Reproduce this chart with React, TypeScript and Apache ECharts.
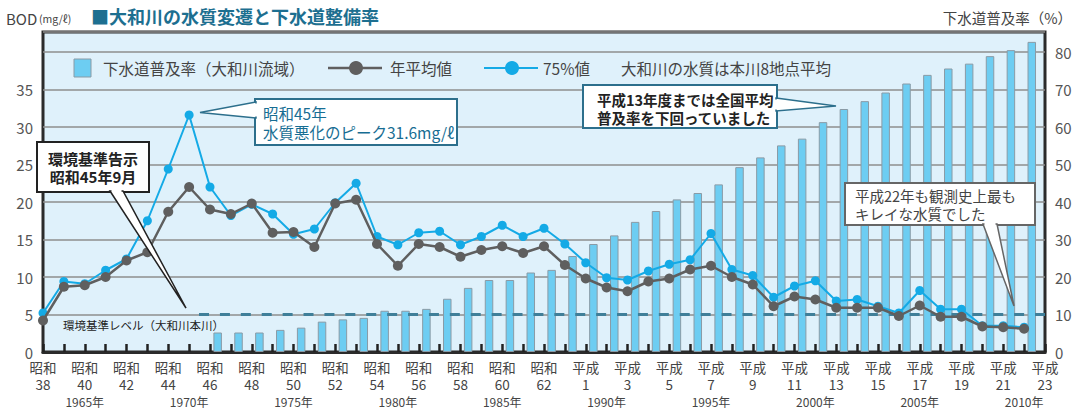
import React, { useEffect, useRef } from "react";
import * as echarts from "echarts";

const FONT = "'Noto Sans CJK JP', 'Noto Sans', sans-serif";

// categories: 昭和38 (1963) … 昭和63, 平成1 … 平成23 (2011)
const showaYears = [38, 39, 40, 41, 42, 43, 44, 45, 46, 47, 48, 49, 50, 51, 52, 53, 54, 55, 56, 57, 58, 59, 60, 61, 62, 63];
const heiseiYears = [1, 2, 3, 4, 5, 6, 7, 8, 9, 10, 11, 12, 13, 14, 15, 16, 17, 18, 19, 20, 21, 22, 23];
const categories = [...showaYears.map((n) => `昭和${n}`), ...heiseiYears.map((n) => `平成${n}`)];
const firstWesternYear = 1963;

// 下水道普及率（%） right axis
const sewerRate = [
  null, null, null, null, null, null, null, null,
  5.2, 5.2, 5.2, 5.9, 6.5, 8.1, 8.7, 9.1,
  11.0, 11.0, 11.5, 14.2, 17.1, 19.2, 19.2, 21.2,
  21.9, 25.6, 28.8, 31.1, 34.7, 37.6, 40.7, 42.4,
  44.7, 49.3, 51.9, 55.1, 56.9, 61.3, 64.8, 66.9,
  69.2, 71.6, 73.9, 75.6, 76.9, 78.9, 80.5, 82.7,
  null,
];

// 年平均値 BOD (mg/ℓ)
const bodAnnual = [
  4.2, 8.7, 8.9, 10.0, 12.2, 13.3, 18.7, 22.0,
  19.0, 18.4, 19.8, 15.9, 16.0, 14.0, 19.8, 20.3,
  14.4, 11.5, 14.4, 14.0, 12.7, 13.6, 14.1, 13.2,
  14.1, 11.6, 9.8, 8.6, 8.1, 9.4, 9.8, 11.0,
  11.5, 10.0, 9.0, 6.1, 7.4, 7.0, 5.9, 5.9,
  5.9, 4.8, 6.2, 4.7, 4.7, 3.4, 3.3, 3.1,
  null,
];

// 75%値 BOD (mg/ℓ)
const bod75 = [
  5.2, 9.4, 9.1, 10.9, 12.4, 17.5, 24.4, 31.6,
  22.0, 18.2, 19.7, 18.4, 15.7, 16.4, 19.9, 22.5,
  15.4, 14.3, 15.9, 16.1, 14.3, 15.4, 16.9, 15.4,
  16.5, 14.4, 11.9, 9.9, 9.6, 10.8, 11.7, 12.3,
  15.8, 11.0, 10.2, 7.3, 8.8, 9.5, 6.8, 7.0,
  6.1, 5.2, 8.2, 5.7, 5.7, 3.5, 3.5, 3.3,
  null,
];

// 環境基準レベル
const standardLevel = 5;
const standardFrom = "昭和45";
const standardTo = "平成23";

const leftTicksMaxLabel = 35;
const rightTicksMaxLabel = 80;

const GRAY = "#5f5f5f";
const BLUE = "#14aae6";
const BAR = "#6dcdf2";
const TEAL = "#2c6f8c";

function txt(x: number, y: number, text: string, size: number, fill: string, extra: any = {}) {
  return {
    type: "text",
    x,
    y,
    z: 60,
    style: {
      text,
      fontSize: size,
      fontFamily: FONT,
      fill,
      textVerticalAlign: "middle",
      ...extra,
    },
  };
}

export default function App() {
  const ref = useRef<HTMLDivElement>(null);

  useEffect(() => {
    document.body.style.margin = "0";
    if (!ref.current) return;
    const chart = echarts.init(ref.current, undefined, { renderer: "svg" });

    const graphic: any[] = [
      // titles
      txt(91, 16, "■大和川の水質変遷と下水道整備率", 18, "#1d6f90", { fontWeight: "bold" }),
      txt(6, 18, "BOD", 15, "#444"),
      txt(39, 18, "(mg/ℓ)", 10.5, "#444"),
      txt(1072, 17, "下水道普及率（%）", 14.5, "#444", { textAlign: "right" }),

      // legend
      { type: "rect", z: 60, shape: { x: 74, y: 59, width: 17, height: 18 }, style: { fill: BAR, stroke: "#8a9ba6", lineWidth: 1 } },
      txt(103, 68, "下水道普及率（大和川流域）", 15.5, "#444"),
      { type: "line", z: 60, shape: { x1: 328, y1: 68, x2: 382, y2: 68 }, style: { stroke: GRAY, lineWidth: 2.5 } },
      { type: "circle", z: 61, shape: { cx: 356, cy: 68, r: 7 }, style: { fill: GRAY } },
      txt(390, 68, "年平均値", 15.5, "#444"),
      { type: "line", z: 60, shape: { x1: 484, y1: 68, x2: 538, y2: 68 }, style: { stroke: BLUE, lineWidth: 2 } },
      { type: "circle", z: 61, shape: { cx: 512, cy: 68, r: 7 }, style: { fill: BLUE } },
      txt(543, 68, "75%値", 15.5, "#444"),
      txt(621, 68, "大和川の水質は本川8地点平均", 15.5, "#444"),

      // standard level label
      txt(63, 325, "環境基準レベル（大和川本川）", 11.5, "#222"),

      // callout 1
      { type: "rect", z: 70, shape: { x: 37, y: 142, width: 112, height: 50 }, style: { fill: "#fff", stroke: "#222", lineWidth: 2 } },
      { type: "polygon", z: 71, shape: { points: [[110, 191], [186, 308], [123, 191]] }, style: { fill: "#fff", stroke: "#222", lineWidth: 1.5 } },
      { type: "rect", z: 72, shape: { x: 111.5, y: 189, width: 10, height: 3 }, style: { fill: "#fff" } },
      { ...txt(93, 158, "環境基準告示", 15, "#222", { textAlign: "center", fontWeight: "bold" }), z: 73 },
      { ...txt(93, 176, "昭和45年9月", 15, "#222", { textAlign: "center", fontWeight: "bold" }), z: 73 },

      // callout 2
      { type: "rect", z: 70, shape: { x: 255, y: 99, width: 202, height: 46 }, style: { fill: "#fff", stroke: TEAL, lineWidth: 2 } },
      { type: "polygon", z: 71, shape: { points: [[256, 102], [200, 112.5], [256, 118]] }, style: { fill: "#fff", stroke: TEAL, lineWidth: 1.5 } },
      { type: "rect", z: 72, shape: { x: 254, y: 103.5, width: 3, height: 13 }, style: { fill: "#fff" } },
      { ...txt(263, 113, "昭和45年", 15.5, "#176d93"), z: 73 },
      { ...txt(263, 131.5, "水質悪化のピーク31.6mg/ℓ", 15.5, "#176d93"), z: 73 },

      // callout 3
      { type: "rect", z: 70, shape: { x: 583, y: 85, width: 194, height: 43 }, style: { fill: "#fff", stroke: TEAL, lineWidth: 2 } },
      { type: "polygon", z: 71, shape: { points: [[776, 98], [836, 106], [776, 111]] }, style: { fill: "#fff", stroke: TEAL, lineWidth: 1.5 } },
      { type: "rect", z: 72, shape: { x: 775, y: 99.5, width: 3, height: 10 }, style: { fill: "#fff" } },
      { ...txt(597, 99, "平成13年度までは全国平均", 14.5, "#222", { fontWeight: "bold" }), z: 73 },
      { ...txt(597, 117, "普及率を下回っていました", 14.5, "#222", { fontWeight: "bold" }), z: 73 },

      // callout 4
      { type: "rect", z: 70, shape: { x: 845, y: 183, width: 190, height: 42 }, style: { fill: "#fff", stroke: "#666", lineWidth: 2 } },
      { type: "polygon", z: 71, shape: { points: [[983, 224], [1014, 306], [997, 224]] }, style: { fill: "#fff", stroke: "#666", lineWidth: 1.5 } },
      { type: "rect", z: 72, shape: { x: 984.5, y: 222, width: 11, height: 3 }, style: { fill: "#fff" } },
      { ...txt(855, 195.5, "平成22年も観測史上最も", 14.5, "#444"), z: 73 },
      { ...txt(855, 213, "キレイな水質でした", 14.5, "#444"), z: 73 },
    ];

    const option: any = {
      animation: false,
      textStyle: { fontFamily: FONT },
      grid: {
        left: 43,
        top: 32,
        width: 1002,
        height: 320,
        show: true,
        backgroundColor: "#dff1fb",
        borderColor: "#2b2b2b",
        borderWidth: 3,
        containLabel: false,
        outerBoundsMode: "none",
      },
      xAxis: [
        {
          type: "category",
          data: categories,
          boundaryGap: false,
          axisLine: { show: true, lineStyle: { color: "#2b2b2b", width: 3 } },
          axisTick: { show: true, inside: true, length: 8, interval: 0, lineStyle: { color: "#222", width: 2.5 } },
          splitLine: { show: false },
          axisLabel: {
            interval: 1,
            margin: 6,
            color: "#444",
            fontSize: 13.5,
            lineHeight: 17,
            fontFamily: FONT,
            formatter: (v: string) => `${v.slice(0, 2)}\n${v.slice(2)}`,
          },
        },
        {
          type: "category",
          data: categories,
          boundaryGap: false,
          position: "bottom",
          offset: 39,
          axisLine: { show: false },
          axisTick: { show: false },
          splitLine: { show: false },
          axisLabel: {
            margin: 4,
            fontSize: 12,
            color: "#444",
            fontFamily: FONT,
            interval: (index: number) => (firstWesternYear + index) % 5 === 0,
            formatter: (_v: string, index: number) => `${firstWesternYear + index}年`,
          },
        },
      ],
      yAxis: [
        {
          type: "value",
          min: 0,
          max: 320 / 7.5,
          interval: 5,
          axisLine: { show: false },
          axisTick: { show: false },
          axisLabel: {
            margin: 10,
            fontSize: 15,
            color: "#555",
            fontFamily: FONT,
            formatter: (v: number) => (v <= leftTicksMaxLabel ? String(v) : ""),
          },
          splitLine: { show: true, lineStyle: { color: "#8e8e8e", width: 1.5 } },
        },
        {
          type: "value",
          position: "right",
          min: 0,
          max: 320 / 3.75,
          interval: 10,
          axisLine: { show: false },
          axisTick: { show: false },
          axisLabel: {
            margin: 10,
            fontSize: 15,
            color: "#555",
            fontFamily: FONT,
            formatter: (v: number) => (v <= rightTicksMaxLabel ? String(v) : ""),
          },
          splitLine: { show: false },
        },
      ],
      graphic,
      series: [
        {
          name: "_offset",
          type: "bar",
          xAxisIndex: 0,
          yAxisIndex: 1,
          data: categories.map(() => null),
          barWidth: 8.5,
          barGap: "80%",
          itemStyle: { color: "transparent" },
          silent: true,
        },
        {
          name: "下水道普及率（大和川流域）",
          type: "bar",
          xAxisIndex: 0,
          yAxisIndex: 1,
          data: sewerRate,
          barWidth: 8.5,
          barGap: "80%",
          itemStyle: { color: BAR, borderColor: "#8a9ba6", borderWidth: 1 },
          z: 2,
        },
        {
          name: "75%値",
          type: "line",
          xAxisIndex: 0,
          yAxisIndex: 0,
          data: bod75,
          symbol: "circle",
          symbolSize: 9,
          lineStyle: { color: BLUE, width: 2 },
          itemStyle: { color: BLUE },
          z: 4,
        },
        {
          name: "年平均値",
          type: "line",
          xAxisIndex: 0,
          yAxisIndex: 0,
          data: bodAnnual,
          symbol: "circle",
          symbolSize: 10,
          lineStyle: { color: GRAY, width: 2.5 },
          itemStyle: { color: GRAY },
          z: 5,
          markLine: {
            silent: true,
            symbol: ["none", "none"],
            label: { show: false },
            lineStyle: { color: "#3f7f99", width: 3, type: [10, 10.9], dashOffset: 10.9 },
            data: [[{ coord: [standardFrom, standardLevel] }, { coord: [standardTo, standardLevel] }]],
          },
        },
      ],
    };

    chart.setOption(option);
    return () => chart.dispose();
  }, []);

  return <div ref={ref} style={{ width: 1078, height: 409 }} />;
}
